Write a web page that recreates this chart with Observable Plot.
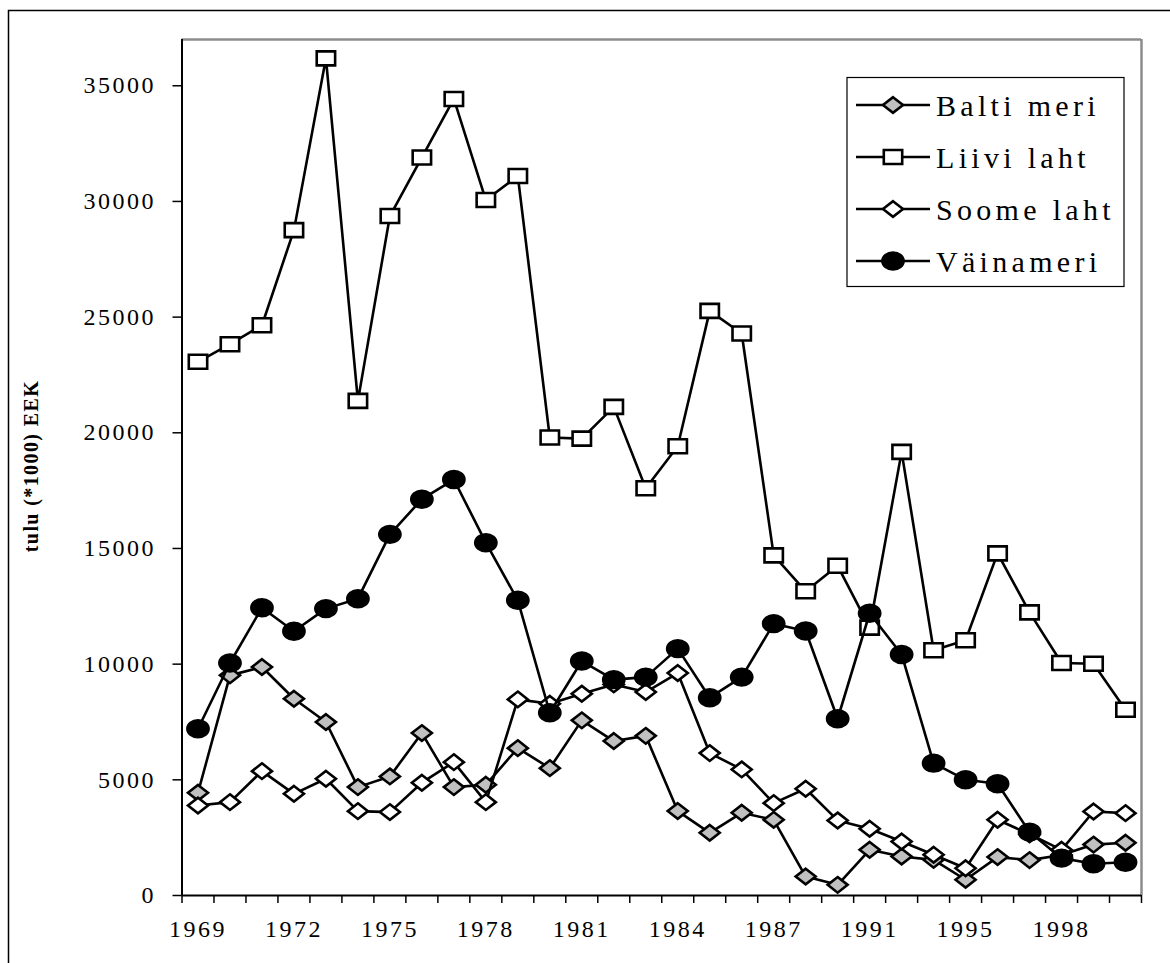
<!DOCTYPE html>
<html>
<head>
<meta charset="utf-8">
<script src="https://cdn.jsdelivr.net/npm/d3@7"></script>
<script src="https://cdn.jsdelivr.net/npm/@observablehq/plot@0.6"></script>
<style>
  html, body { margin: 0; padding: 0; background: white; }
  #wrap { position: relative; width: 1170px; height: 963px; overflow: hidden; }
</style>
</head>
<body>
<div id="wrap"></div>
<script>
// ---- data ----
const years = ["1969","1970","1971","1972","1973","1974","1975","1976","1977","1978",
               "1979","1980","1981","1982","1983","1984","1985","1986","1987","1988",
               "1990","1991","1992","1994","1995","1996","1997","1998","1999","2000"];
const shownYears = ["1969","1972","1975","1978","1981","1984","1987","1991","1995","1998"];
const yTicks = [0, 5000, 10000, 15000, 20000, 25000, 30000, 35000];
const yMax = 37000;
const seriesNames = ["Balti meri", "Liivi laht", "Soome laht", "Väinameri"];
const yTitle = "tulu (*1000) EEK";

const balti = [4440, 9515, 9875, 8505, 7500, 4685, 5147, 7020, 4685, 4785,
               6370, 5505, 7570, 6675, 6900, 3650, 2710, 3575, 3270, 820,
               460, 1975, 1685, 1540, 680, 1660, 1530, 1750, 2200, 2280];
const liivi = [23070, 23830, 24650, 28760, 36185, 21380, 29370, 31900, 34430, 30060,
               31100, 19795, 19750, 21120, 17600, 19420, 25270, 24290, 14700, 13150,
               14250, 11580, 19175, 10600, 11030, 14790, 12240, 10050, 10020, 8030];
const soome = [3890, 4035, 5375, 4395, 5045, 3647, 3605, 4875, 5765, 4035,
               8477, 8290, 8723, 9125, 8793, 9615, 6155, 5450, 3992, 4615,
               3245, 2885, 2335, 1760, 1180, 3275, 2650, 1975, 3630, 3560];
const vaina = [7210, 10050, 12440, 11420, 12400, 12830, 15610, 17130, 17980, 15250,
               12760, 7900, 10135, 9330, 9440, 10670, 8550, 9440, 11750, 11430,
               7640, 12200, 10420, 5720, 5000, 4830, 2740, 1615, 1370, 1440];

// ---- marker shapes ----
const rad = s => Math.sqrt(s / Math.PI);
const squareSym = {draw(ctx, size) {
  const r = rad(size), w = 0.92 * r, h = 0.7 * r;
  ctx.moveTo(-w, -h); ctx.lineTo(w, -h); ctx.lineTo(w, h); ctx.lineTo(-w, h); ctx.closePath();
}};
const diamondSym = {draw(ctx, size) {
  const r = rad(size), w = 1.0 * r, h = 0.78 * r;
  ctx.moveTo(0, -h); ctx.lineTo(w, 0); ctx.lineTo(0, h); ctx.lineTo(-w, 0); ctx.closePath();
}};
const ellipseSym = {draw(ctx, size) {
  const r = rad(size), a = 1.06 * r, b = 0.84 * r, k = 0.5523;
  ctx.moveTo(a, 0);
  ctx.bezierCurveTo(a, k * b, k * a, b, 0, b);
  ctx.bezierCurveTo(-k * a, b, -a, k * b, -a, 0);
  ctx.bezierCurveTo(-a, -k * b, -k * a, -b, 0, -b);
  ctx.bezierCurveTo(k * a, -b, a, -k * b, a, 0);
  ctx.closePath();
}};

const series = [
  {name: seriesNames[0], values: balti, symbol: diamondSym, fill: "#c0c0c0"},
  {name: seriesNames[1], values: liivi, symbol: squareSym, fill: "white"},
  {name: seriesNames[2], values: soome, symbol: diamondSym, fill: "white"},
  {name: seriesNames[3], values: vaina, symbol: ellipseSym, fill: "black"}
];

const idx = years.map((_, i) => i);
const boundaries = d3.range(years.length + 1).map(i => i - 0.5);
const R = 10;

const seriesMarks = series.flatMap(s => [
  Plot.line(idx, {x: i => i, y: i => s.values[i], stroke: "black", strokeWidth: 2.6, strokeLinejoin: "miter"}),
  Plot.dot(idx, {x: i => i, y: i => s.values[i], r: R, symbol: s.symbol, fill: s.fill, stroke: "black", strokeWidth: 2.6, strokeLinejoin: "miter"})
]);

const chart = Plot.plot({
  width: 1170,
  height: 963,
  marginLeft: 181.5,
  marginRight: 29,
  marginTop: 39,
  marginBottom: 68,
  style: {fontFamily: "'Liberation Serif', 'Times New Roman', serif", fontSize: "24px", background: "white", color: "black", letterSpacing: "2.5px"},
  x: {type: "linear", domain: [-0.5, years.length - 0.5]},
  y: {domain: [0, yMax]},
  marks: [
    Plot.axisY({ticks: yTicks, tickSize: 9, tickPadding: 17, tickFormat: d => String(d), label: null, strokeWidth: 1.5}),
    Plot.axisX({ticks: boundaries, tickSize: 8, tickFormat: () => "", label: null, strokeWidth: 1.5}),
    Plot.axisX({ticks: shownYears.map(y => years.indexOf(y)), tickSize: 0, tickPadding: 24, tickFormat: i => years[i], label: null}),
    Plot.ruleY([yMax], {stroke: "#8c8c8c", strokeWidth: 2.5}),
    Plot.ruleX([years.length - 0.5], {stroke: "#8c8c8c", strokeWidth: 2.5}),
    Plot.ruleX([-0.5], {stroke: "black", strokeWidth: 2}),
    Plot.ruleY([0], {stroke: "black", strokeWidth: 2}),
    ...seriesMarks
  ]
});

document.getElementById("wrap").appendChild(chart);
const svg = d3.select(chart);

// outer border (top & left visible)
svg.append("path").attr("d", "M8.5,963V10.5H1170").attr("fill", "none").attr("stroke", "black").attr("stroke-width", 1.5);

// y-axis title
svg.append("text")
  .attr("transform", "translate(31,466) rotate(-90)")
  .attr("text-anchor", "middle").attr("dy", "0.35em")
  .style("font-weight", "bold").style("font-size", "20px").style("letter-spacing", "1.4px")
  .text(yTitle);

// legend
const lg = svg.append("g");
lg.append("rect").attr("x", 847).attr("y", 77.5).attr("width", 277).attr("height", 209)
  .attr("fill", "white").attr("stroke", "black").attr("stroke-width", 1.2);
series.forEach((s, k) => {
  const cy = 105 + k * 52;
  lg.append("line").attr("x1", 856).attr("x2", 930).attr("y1", cy).attr("y2", cy)
    .attr("stroke", "black").attr("stroke-width", 2.6);
  lg.append("path").attr("transform", `translate(893,${cy})`)
    .attr("d", d3.symbol(s.symbol, Math.PI * R * R)())
    .attr("fill", s.fill).attr("stroke", "black").attr("stroke-width", 2.6).attr("stroke-linejoin", "miter");
  lg.append("text").attr("x", 936).attr("y", cy).attr("dy", "0.35em")
    .attr("text-anchor", "start")
    .style("font-size", "30px").style("letter-spacing", "4.3px")
    .text(s.name);
});
</script>
</body>
</html>
